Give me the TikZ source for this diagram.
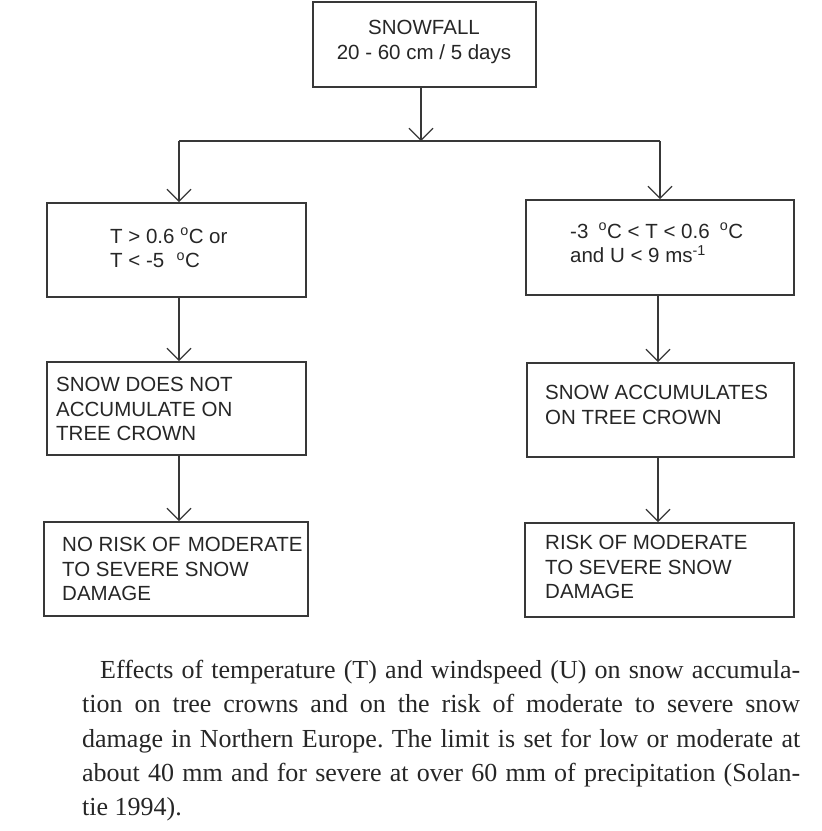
\documentclass[tikz,border=0pt]{standalone}
\usepackage{fontspec}
\setmainfont{Liberation Serif}
\newfontfamily\boxfont{Liberation Sans}
\usetikzlibrary{arrows.meta,calc}
\definecolor{ink}{HTML}{262626}
\definecolor{rulegray}{HTML}{383838}
\newcommand{\dg}{\textsuperscript{o}}
\begin{document}
\begin{tikzpicture}[x=1pt,y=-1pt,
  box/.style={draw=rulegray, line width=1.5pt, rectangle, inner sep=0pt, anchor=north west},
  boxtext/.style={inner sep=0pt, align=left, text=ink, font=\boxfont\fontsize{20.5}{24.5}\selectfont, anchor=north west},
  flow/.style={draw=rulegray, line width=1.1pt, -{Straight Barb[length=12pt,width=24pt,line width=1.1pt]}},
  bar/.style={draw=rulegray, line width=1.2pt},
  caption/.style={inner sep=0pt, anchor=north west, text width=718pt, align=justify, text=ink, font=\fontsize{26}{34.3}\selectfont\frenchspacing}
]
\useasboundingbox (0,0) rectangle (822,831);

% boxes
\node[box, minimum width=223pt, minimum height=85pt] (snow) at (312,1) {};
\node[box, minimum width=259pt, minimum height=94pt] (b1L) at (46,202) {};
\node[box, minimum width=268pt, minimum height=95pt] (b1R) at (525,199) {};
\node[box, minimum width=259pt, minimum height=93pt] (b2L) at (46,361) {};
\node[box, minimum width=267pt, minimum height=94pt] (b2R) at (526,362) {};
\node[box, minimum width=264pt, minimum height=94pt] (b3L) at (43,521) {};
\node[box, minimum width=269pt, minimum height=94pt] (b3R) at (524,522) {};

% texts
\node[boxtext, anchor=north, align=center] (snowT) at (424,20) {SNOWFALL\\20 - 60 cm / 5 days};
\node[boxtext] (b1LT) at (110,228) {T > 0.6 \dg C or\\T < -5\hspace{0.6em}\dg C};
\node[boxtext] (b1RT) at (570,223) {-3\hspace{0.5em}\dg C < T < 0.6\hspace{0.5em}\dg C\\and U < 9 ms\textsuperscript{-1}};
\node[boxtext] (b2LT) at (56,377) {SNOW DOES NOT\\ACCUMULATE ON\\TREE CROWN};
\node[boxtext] (b2RT) at (545,385) {SNOW ACCUMULATES\\ON TREE CROWN};
\node[boxtext] (b3LT) at (62,537) {NO RISK OF\hspace{0.35em}MODERATE\\TO SEVERE SNOW\\DAMAGE};
\node[boxtext] (b3RT) at (545,535) {RISK OF MODERATE\\TO SEVERE SNOW\\DAMAGE};

% connectors
\coordinate (barS) at (421,141);
\coordinate (barL) at (179,141);
\coordinate (barR) at (660,141);
\coordinate (colR) at (658,141);
\draw[flow] (snow.south -| barS) -- (barS);
\draw[bar] (barL) -- (barR);
\draw[flow] (barL) -- (b1L.north -| barL);
\draw[flow] (barR) -- (b1R.north -| barR);
\draw[flow] (b1L.south -| barL) -- (b2L.north -| barL);
\draw[flow] (b1R.south -| colR) -- (b2R.north -| colR);
\draw[flow] (b2L.south -| barL) -- (b3L.north -| barL);
\draw[flow] (b2R.south -| colR) -- (b3R.north -| colR);

% caption
\node[caption] (cap) at (82,660) {\hspace*{18pt}Effects of temperature (T) and windspeed (U) on snow accumula-\linebreak tion on tree crowns and on the risk of moderate to severe snow\linebreak damage in Northern Europe. The limit is set for low or moderate at\linebreak about 40 mm and for severe at over 60 mm of precipitation (Solan-\linebreak tie 1994).};
\end{tikzpicture}
\end{document}
